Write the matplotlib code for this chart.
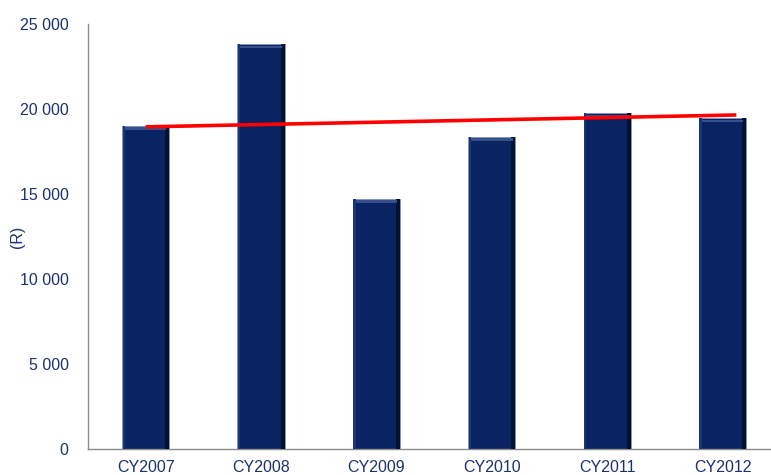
import matplotlib.pyplot as plt
import numpy as np

plt.rcParams['font.family'] = ['Liberation Sans', 'DejaVu Sans']

# ---- data
years = ['CY2007', 'CY2008', 'CY2009', 'CY2010', 'CY2011', 'CY2012']
values = [19000, 23800, 14700, 18350, 19750, 19450]
trend_x = [0, 5.12]
trend_y = [18950, 19650]

NAVY = '#0A2463'
TXT = '#1C3170'

fig = plt.figure(figsize=(7.71, 4.75), dpi=100)
ax = fig.add_axes([88/771, 1 - 449/475, 683/771, 425/475])

x = np.arange(len(years))
w = 0.41
# main bar body
ax.bar(x, values, width=w, color=NAVY, edgecolor='#8895B5', linewidth=0.7, zorder=2)
# dark shading on the right side
ax.bar(x + w/2 - 0.035, values, width=0.035, align='edge', color='#031233', linewidth=0, zorder=3)
ax.bar(x - w/2 + 0.005, values, width=0.02, align='edge', color='#1A3575', linewidth=0, zorder=3)
# light bevel near the top
tops = np.array(values)
ax.bar(x, np.full(len(x), 150), bottom=tops - 230, width=w - 0.05, color='#34508F', linewidth=0, zorder=3)

# trend line
ax.plot(trend_x, trend_y, color='#FF0000', linewidth=2.6, zorder=4, solid_capstyle='butt')

ax.set_xlim(-0.5, 5.42)
ax.set_ylim(0, 25000)
ax.set_yticks(range(0, 25001, 5000))
ax.set_yticklabels([f'{v:,}'.replace(',', ' ') for v in range(0, 25001, 5000)])
ax.set_xticks(x)
ax.set_xticklabels(years)
ax.tick_params(axis='both', length=0, labelsize=11.5, colors=TXT)
ax.tick_params(axis='y', pad=14)
ax.tick_params(axis='x', pad=8)

for s in ['top', 'right']:
    ax.spines[s].set_visible(False)
ax.spines['left'].set_color('#8C8C8C')
ax.spines['bottom'].set_color('#8C8C8C')
ax.spines['left'].set_linewidth(1.0)
ax.spines['bottom'].set_linewidth(1.0)

fig.text(17/771, 1 - 237/475, '(R)', rotation=90, color=TXT, fontsize=11.5,
         ha='center', va='center')

plt.savefig('out.png', dpi=100)
